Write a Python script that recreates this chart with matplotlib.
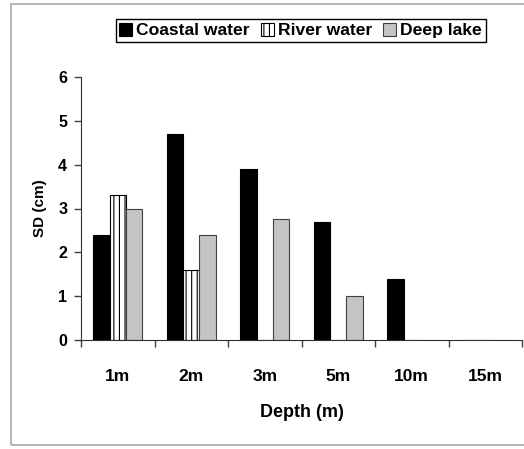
import numpy as np
import matplotlib
matplotlib.use("Agg")
import matplotlib.pyplot as plt
from matplotlib.patches import Rectangle

plt.rcParams['font.family'] = ['Liberation Sans', 'DejaVu Sans']
plt.rcParams['font.weight'] = 'bold'
plt.rcParams['hatch.linewidth'] = 0.8

depths = ['1m', '2m', '3m', '5m', '10m', '15m']
coastal = [2.4, 4.7, 3.9, 2.7, 1.4, 0]
river = [3.3, 1.6, 0, 0, 0, 0]
deep_lake = [3.0, 2.4, 2.77, 1.0, 0, 0]

fig = plt.figure(figsize=(5.24, 4.49), dpi=100)
ax = fig.add_axes([81 / 524, 1 - 340 / 449, 441 / 524, 263 / 449])

# gray frame round the chart area
fig.patches.append(Rectangle((11 / 524, 1 - 445 / 449), 1.2, 441 / 449,
                             transform=fig.transFigure, fill=False,
                             edgecolor='#a8a8a8', linewidth=1.2))

x = np.arange(len(depths))
w = 0.222
b1 = ax.bar(x - w, coastal, w, color='black', edgecolor='black', linewidth=0.8,
            label='Coastal water')
b2 = ax.bar(x, river, w, color='white', edgecolor='black', linewidth=0.8,
            hatch='|||', label='River water')
b3 = ax.bar(x + w, deep_lake, w, color='#c4c4c4', edgecolor='#404040', linewidth=0.8,
            label='Deep lake')

ax.set_xlim(-0.5, len(depths) - 0.5)
ax.set_ylim(0, 6)
ax.set_yticks(range(7))
ax.set_xticks(np.arange(len(depths) + 1) - 0.5)
ax.set_xticklabels([])
ax.set_xticks(x, minor=True)
ax.set_xticklabels(depths, minor=True)
ax.tick_params(axis='x', which='minor', length=0, pad=21, labelsize=12.5)
ax.tick_params(axis='x', which='major', length=5, width=1, color='#404040')
ax.tick_params(axis='y', length=5, width=1, color='#404040', pad=5, labelsize=11.5)

for s in ['top', 'right']:
    ax.spines[s].set_visible(False)
ax.spines['left'].set_color('#303030')
ax.spines['bottom'].set_color('#303030')

ax.set_xlabel('Depth (m)', fontsize=13, fontweight='bold', labelpad=14)
ax.set_ylabel('SD (cm)', fontsize=11, fontweight='bold', labelpad=8)

leg = fig.legend(handles=[b1, b2, b3], loc='center', ncol=3,
                 bbox_to_anchor=(300.5 / 524, 1 - 30.5 / 449),
                 fancybox=False, edgecolor='black', framealpha=1,
                 handlelength=0.75, handleheight=0.75, handletextpad=0.25,
                 columnspacing=0.6, borderpad=0.2, borderaxespad=0,
                 prop={'size': 12.6, 'weight': 'bold'})
leg.get_frame().set_linewidth(1)

fig.savefig('out.png', dpi=100)
